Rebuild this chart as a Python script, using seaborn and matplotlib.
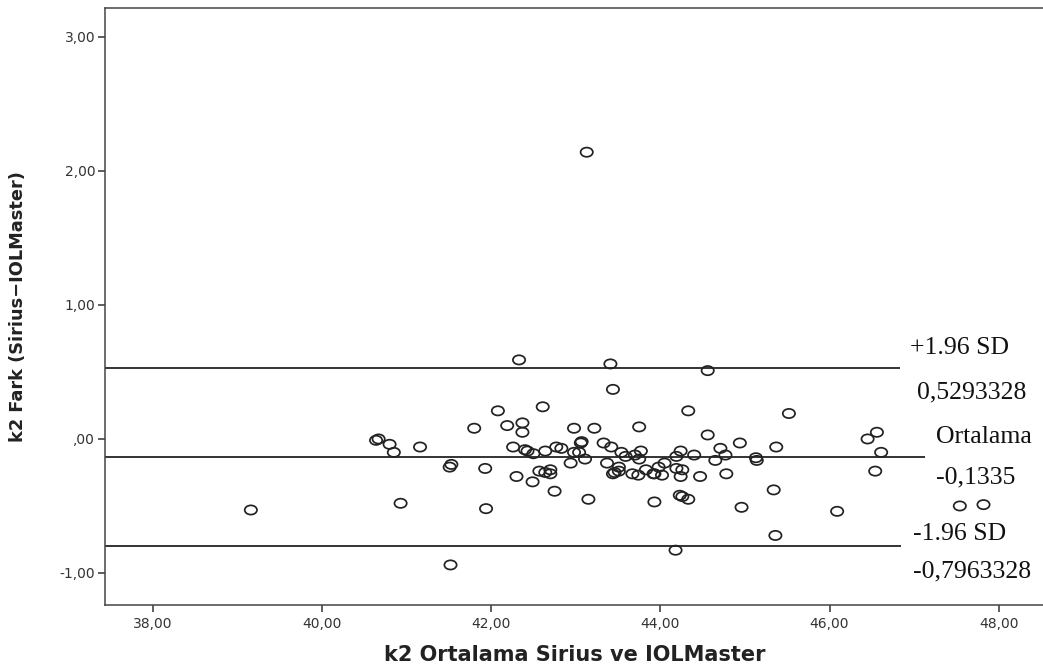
import numpy as np
import pandas as pd
import seaborn as sns
import matplotlib
matplotlib.use("Agg")
import matplotlib.pyplot as plt
from matplotlib.path import Path
import matplotlib.transforms as mtransforms

# ---- data ----
mean_k2 = [39.16, 40.64, 40.67, 40.80, 40.85, 41.16, 41.80, 42.08, 40.93, 41.51,
           41.53, 41.93, 41.94, 41.52,
           42.33, 43.41, 44.56, 43.44, 42.61, 44.33, 42.19, 42.37, 42.37, 42.98,
           43.22, 43.75, 44.56, 44.94, 42.26, 42.40, 42.43, 42.50, 42.64, 42.77,
           42.83, 42.98, 43.06, 43.07, 43.04, 43.11, 42.94, 43.33, 43.42, 43.54,
           43.59, 43.37, 43.51, 43.51, 43.44, 43.46, 43.70, 43.77, 43.75, 43.67,
           43.74, 43.83, 43.92, 43.93, 43.98, 44.05, 44.02, 44.19, 44.24, 44.19,
           44.26, 44.24, 44.40, 44.47, 44.71, 44.77, 44.65, 44.78, 45.13, 45.14,
           42.30, 42.49, 42.57, 42.64, 42.70, 42.70, 42.75, 43.15, 43.93, 44.23,
           44.26, 44.33, 44.96, 44.18,
           45.52, 45.37, 45.34, 45.36, 46.09, 46.45, 46.56, 46.61, 46.54, 47.54,
           47.82, 43.13]
diff_k2 = [-0.53, -0.01, 0.00, -0.04, -0.10, -0.06, 0.08, 0.21, -0.48, -0.21,
           -0.19, -0.22, -0.52, -0.94,
           0.59, 0.56, 0.51, 0.37, 0.24, 0.21, 0.10, 0.12, 0.05, 0.08,
           0.08, 0.09, 0.03, -0.03, -0.06, -0.08, -0.09, -0.11, -0.09, -0.06,
           -0.07, -0.10, -0.03, -0.02, -0.10, -0.15, -0.18, -0.03, -0.06, -0.10,
           -0.13, -0.18, -0.21, -0.24, -0.26, -0.25, -0.12, -0.09, -0.15, -0.26,
           -0.27, -0.23, -0.26, -0.26, -0.21, -0.18, -0.27, -0.13, -0.09, -0.22,
           -0.23, -0.28, -0.12, -0.28, -0.07, -0.12, -0.16, -0.26, -0.14, -0.16,
           -0.28, -0.32, -0.24, -0.25, -0.23, -0.26, -0.39, -0.45, -0.47, -0.42,
           -0.43, -0.45, -0.51, -0.83,
           0.19, -0.06, -0.38, -0.72, -0.54, 0.00, 0.05, -0.10, -0.24, -0.50,
           -0.49, 2.14]

line_values = [0.5293328, -0.1335, -0.7963328]
line_ends = [46.83, 47.13, 46.85]
label_texts = ["+1.96 SD", "0,5293328", "Ortalama", "-0,1335", "-1.96 SD", "-0,7963328"]
label_x = [46.95, 47.03, 47.26, 47.26, 46.99, 46.99]
label_y = [0.68, 0.35, 0.015, -0.29, -0.71, -0.99]

x_ticks = [38, 40, 42, 44, 46, 48]
x_ticklabels = ["38,00", "40,00", "42,00", "44,00", "46,00", "48,00"]
y_ticks = [-1, 0, 1, 2, 3]
y_ticklabels = ["-1,00", ",00", "1,00", "2,00", "3,00"]

df = pd.DataFrame({"mean": mean_k2, "diff": diff_k2})

# ---- figure ----
sns.set_style("white")
plt.rcParams["font.family"] = ["DejaVu Sans"]

W, H = 1043, 668
fig = plt.figure(figsize=(W / 100, H / 100), dpi=100)
ax_left, ax_right, ax_top, ax_bot = 105, 1100, 8, 605
ax = fig.add_axes([ax_left / W, 1 - ax_bot / H, (ax_right - ax_left) / W, (ax_bot - ax_top) / H])

ell = Path.unit_circle().transformed(mtransforms.Affine2D().scale(1.33, 1.0))
sns.scatterplot(data=df, x="mean", y="diff", ax=ax, marker=ell, s=78,
                facecolor="none", edgecolor="#222222", linewidth=1.25, zorder=3)
for coll in ax.collections:
    coll.set_facecolor("none")
    coll.set_edgecolor("#222222")

ax.set_xlim(37.436, 49.197)
ax.set_ylim(-1.239, 3.216)

for v, xe in zip(line_values, line_ends):
    ax.hlines(v, 37.436, xe, color="#111111", linewidth=1.2, zorder=2)

for t, tx, ty in zip(label_texts, label_x, label_y):
    ax.text(tx, ty, t, ha="left", va="center", fontsize=18.5,
            family=["Liberation Serif"], color="#111111")

ax.set_xticks(x_ticks)
ax.set_xticklabels(x_ticklabels)
ax.set_yticks(y_ticks)
ax.set_yticklabels(y_ticklabels)
ax.tick_params(axis="both", direction="out", length=5, width=1.1, color="#333333",
               labelsize=10, labelcolor="#333333", left=True, bottom=True)
ax.tick_params(axis="x", pad=4)
ax.tick_params(axis="y", pad=2)

for s in ax.spines.values():
    s.set_color("#444444")
    s.set_linewidth(1.1)
ax.spines["right"].set_visible(False)

ax.set_xlabel("k2 Ortalama Sirius ve IOLMaster", fontsize=15, fontweight="bold", color="#222222")
ax.set_ylabel("k2 Fark (Sirius\u2212IOLMaster)", fontsize=12.8, fontweight="bold", color="#222222")
ax.xaxis.set_label_coords((575 - ax_left) / (ax_right - ax_left), -(655 - ax_bot) / (ax_bot - ax_top))
ax.yaxis.set_label_coords(-(105 - 18) / (ax_right - ax_left), 0.5)
ax.xaxis.label.set_va("center")
ax.yaxis.label.set_va("center")

fig.savefig("out.png", dpi=100)
